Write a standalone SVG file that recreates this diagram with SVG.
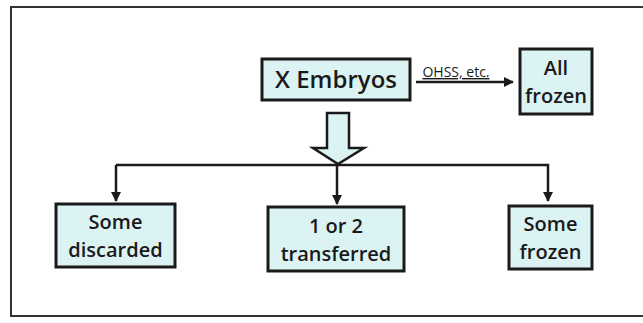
<svg xmlns="http://www.w3.org/2000/svg" width="643" height="323" viewBox="0 0 643 323">
<defs>
<style>
.box{fill:#dcf3f3;stroke:#1a1a1a;stroke-width:3}
.t{font-family:"Open Sans","DejaVu Sans",sans-serif;font-weight:600;fill:#1a1a1a;text-anchor:middle;font-size:20px}
.ln{fill:none;stroke:#1a1a1a;stroke-width:2.5}
</style>
<marker id="ah" markerWidth="10" markerHeight="10" refX="9" refY="5" orient="auto" markerUnits="userSpaceOnUse">
<path d="M0,0 L10,5 L0,10 Z" fill="#1a1a1a"/>
</marker>
</defs>
<rect width="643" height="323" fill="#fff"/>
<rect x="11" y="7" width="660" height="309" fill="none" stroke="#333" stroke-width="2"/>
<g id="connectors">
<path class="ln" d="M416,82 L513,82" marker-end="url(#ah)"/>
<text x="456" y="77" class="t" style="font-size:14px;font-weight:400;text-decoration:underline">OHSS, etc.</text>
<path d="M327,113 L349,113 L349,148 L364,148 L338,164 L313,148 L327,148 Z" fill="#dcf3f3" stroke="#1a1a1a" stroke-width="2.5" stroke-linejoin="miter"/>
<path class="ln" d="M116,165 L548,165 L548,201" marker-end="url(#ah)"/>
<path class="ln" d="M116,165 L116,201" marker-end="url(#ah)"/>
<path class="ln" d="M337,165 L337,204" marker-end="url(#ah)"/>
</g>
<g id="x-embryos">
<rect class="box" x="262" y="59" width="148" height="41"/>
<text x="336" y="88" class="t" style="font-size:24px">X Embryos</text>
</g>
<g id="all-frozen">
<rect class="box" x="520" y="49" width="72" height="65"/>
<text x="556" y="75" class="t">All</text>
<text x="556" y="103" class="t">frozen</text>
</g>
<g id="some-discarded">
<rect class="box" x="56" y="204" width="119" height="63"/>
<text x="115.5" y="229" class="t">Some</text>
<text x="115.5" y="257" class="t">discarded</text>
</g>
<g id="transferred">
<rect class="box" x="268" y="207" width="136" height="64"/>
<text x="336" y="233" class="t">1 or 2</text>
<text x="336" y="261" class="t">transferred</text>
</g>
<g id="some-frozen">
<rect class="box" x="509" y="206" width="83" height="63"/>
<text x="550.5" y="231" class="t">Some</text>
<text x="550.5" y="259" class="t">frozen</text>
</g>
</svg>
